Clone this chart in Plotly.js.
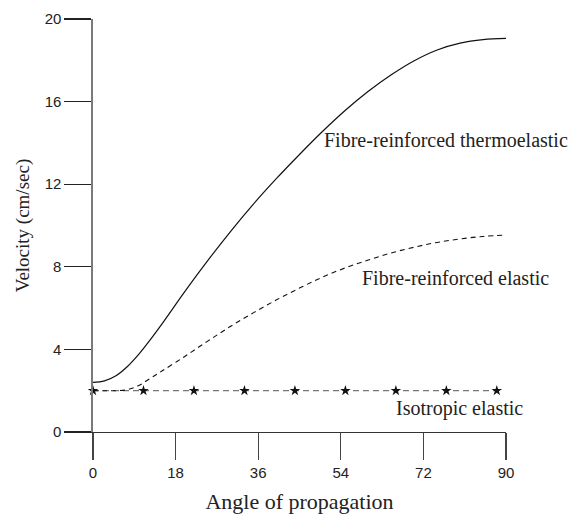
<!DOCTYPE html>
<html>
<head>
<meta charset="utf-8">
<script src="https://cdn.plot.ly/plotly-3.0.1.min.js"></script>
<style>html,body{margin:0;padding:0;background:#fff;}</style>
</head>
<body>
<div id="chart" style="width:577px;height:514px;"></div>
<script>
// Angle of propagation (degrees)
const angle = [0, 2.5, 5, 7.5, 10, 12.5, 15, 20, 25, 30, 35, 40, 45, 50, 55, 60, 65, 70, 75, 80, 85, 90];
// Fibre-reinforced thermoelastic velocity (cm/sec)
const thermo = [2.4, 2.475, 2.725, 3.175, 3.775, 4.475, 5.225, 6.8, 8.3, 9.72, 11.05, 12.28, 13.44, 14.55, 15.58, 16.5, 17.3, 17.98, 18.5, 18.83, 19.0, 19.06];
// Fibre-reinforced elastic velocity (cm/sec)
const elastic = [2.0, 2.0, 2.0, 2.05, 2.25, 2.6, 2.95, 3.66, 4.4, 5.12, 5.78, 6.4, 6.97, 7.5, 7.95, 8.33, 8.67, 8.95, 9.18, 9.35, 9.47, 9.54];
// Isotropic elastic velocity (cm/sec)
const isoAngle = [0, 11, 22, 33, 44, 55, 66, 77, 88];
const isotropic = [2, 2, 2, 2, 2, 2, 2, 2, 2];

const xTicks = [0, 18, 36, 54, 72, 90];
const yTicks = [0, 4, 8, 12, 16, 20];

const labels = ["Fibre-reinforced thermoelastic", "Fibre-reinforced elastic", "Isotropic elastic"];

const serif = "Liberation Serif, Times New Roman, serif";
const sans = "Liberation Sans, Arial, sans-serif";

const traces = [
  {x: isoAngle, y: isotropic, mode: "lines+markers", cliponaxis: false,
   line: {color: "#777", width: 1.3, dash: "6px,4px"},
   marker: {symbol: "star", size: 8, color: "#111"}, name: labels[2]},
  {x: angle, y: elastic, mode: "lines", cliponaxis: false, line: {color: "#111", width: 1.1, dash: "5px,4px", shape: "spline", smoothing: 1}, name: labels[1]},
  {x: angle, y: thermo, mode: "lines", cliponaxis: false, line: {color: "#111", width: 1.2, shape: "spline", smoothing: 1}, name: labels[0]}
];

const layout = {
  width: 577, height: 514,
  margin: {l: 93, r: 71, t: 19, b: 82},
  paper_bgcolor: "#fff", plot_bgcolor: "#fff",
  showlegend: false,
  xaxis: {
    range: [0, 90], tickvals: xTicks, ticktext: xTicks.map(String),
    showgrid: false, zeroline: false,
    showline: true, linecolor: "#333", linewidth: 1.3,
    ticks: "outside", ticklen: 27, tickwidth: 1.3, tickcolor: "#444",
    tickfont: {family: sans, size: 15, color: "#222"},
    title: {text: "Angle of propagation", font: {family: serif, size: 22, color: "#222"}, standoff: 13},
    automargin: false
  },
  yaxis: {
    range: [0, 20], tickvals: yTicks, ticktext: yTicks.map(String),
    showgrid: false, zeroline: false,
    showline: true, linecolor: "#7a7a7a", linewidth: 1.6,
    ticks: "outside", ticklen: 27, tickwidth: 1.3, tickcolor: "#222",
    tickfont: {family: sans, size: 15, color: "#222"},
    title: {text: "Velocity (cm/sec)", font: {family: serif, size: 19, color: "#222"}, standoff: 10},
    automargin: false
  },
  annotations: [
    {x: 50.0, y: 14.14, xref: "x", yref: "y", text: labels[0], showarrow: false, xanchor: "left", yanchor: "middle", font: {family: serif, size: 20, color: "#222"}},
    {x: 58.1, y: 7.46, xref: "x", yref: "y", text: labels[1], showarrow: false, xanchor: "left", yanchor: "middle", font: {family: serif, size: 20, color: "#222"}},
    {x: 65.5, y: 1.16, xref: "x", yref: "y", text: labels[2], showarrow: false, xanchor: "left", yanchor: "middle", font: {family: serif, size: 20, color: "#222"}}
  ]
};

Plotly.newPlot("chart", traces, layout, {displayModeBar: false, staticPlot: true});
</script>
</body>
</html>
